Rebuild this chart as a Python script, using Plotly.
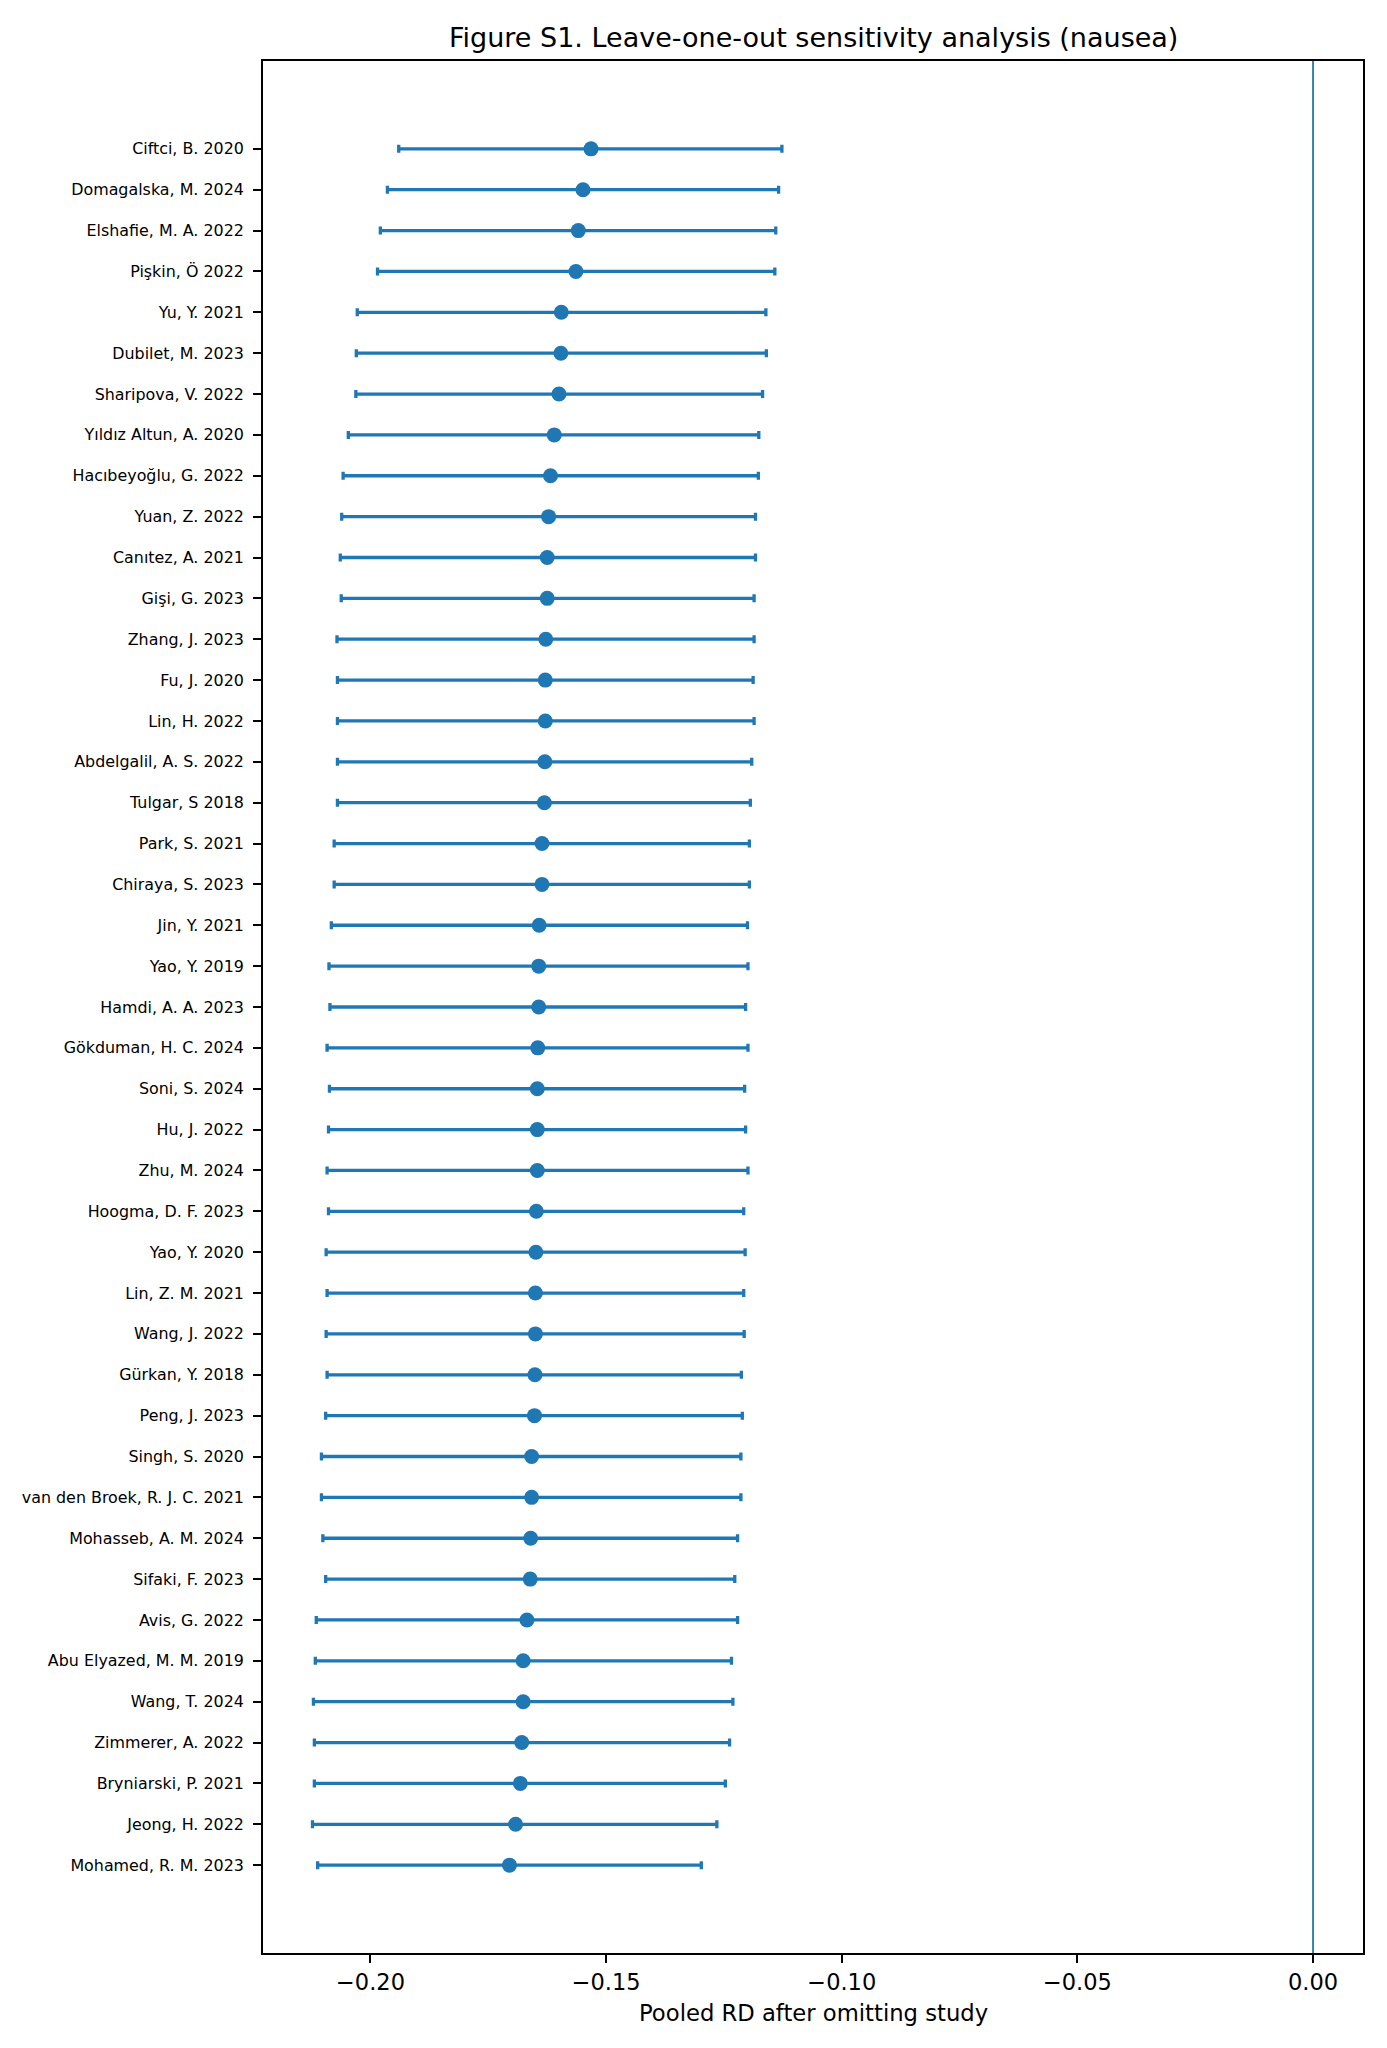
import plotly.graph_objects as go

studies = [
    "Ciftci, B. 2020", "Domagalska, M. 2024", "Elshafie, M. A. 2022", "Pişkin, Ö 2022",
    "Yu, Y. 2021", "Dubilet, M. 2023", "Sharipova, V. 2022", "Yıldız Altun, A. 2020",
    "Hacıbeyoğlu, G. 2022", "Yuan, Z. 2022", "Canıtez, A. 2021", "Gişi, G. 2023",
    "Zhang, J. 2023", "Fu, J. 2020", "Lin, H. 2022", "Abdelgalil, A. S. 2022",
    "Tulgar, S 2018", "Park, S. 2021", "Chiraya, S. 2023", "Jin, Y. 2021",
    "Yao, Y. 2019", "Hamdi, A. A. 2023", "Gökduman, H. C. 2024", "Soni, S. 2024",
    "Hu, J. 2022", "Zhu, M. 2024", "Hoogma, D. F. 2023", "Yao, Y. 2020",
    "Lin, Z. M. 2021", "Wang, J. 2022", "Gürkan, Y. 2018", "Peng, J. 2023",
    "Singh, S. 2020", "van den Broek, R. J. C. 2021", "Mohasseb, A. M. 2024", "Sifaki, F. 2023",
    "Avis, G. 2022", "Abu Elyazed, M. M. 2019", "Wang, T. 2024", "Zimmerer, A. 2022",
    "Bryniarski, P. 2021", "Jeong, H. 2022", "Mohamed, R. M. 2023",
]

pooled_rd = [
    -0.1532, -0.1549, -0.1559, -0.1564, -0.1595, -0.1596, -0.1600, -0.1610,
    -0.1618, -0.1622, -0.1625, -0.1625, -0.1628, -0.1629, -0.1629, -0.1630,
    -0.1631, -0.1636, -0.1636, -0.1642, -0.1643, -0.1643, -0.1645, -0.1646,
    -0.1646, -0.1646, -0.1648, -0.1649, -0.1650, -0.1650, -0.1651, -0.1652,
    -0.1658, -0.1658, -0.1660, -0.1661, -0.1668, -0.1676, -0.1676, -0.1679,
    -0.1682, -0.1692, -0.1705,
]

ci_lower = [
    -0.1940, -0.1964, -0.1979, -0.1985, -0.2028, -0.2030, -0.2031, -0.2047,
    -0.2058, -0.2061, -0.2064, -0.2062, -0.2071, -0.2070, -0.2070, -0.2070,
    -0.2070, -0.2077, -0.2077, -0.2083, -0.2088, -0.2086, -0.2092, -0.2087,
    -0.2089, -0.2092, -0.2089, -0.2094, -0.2092, -0.2094, -0.2092, -0.2095,
    -0.2104, -0.2104, -0.2101, -0.2095, -0.2115, -0.2117, -0.2121, -0.2119,
    -0.2119, -0.2123, -0.2112,
]

ci_upper = [
    -0.1127, -0.1134, -0.1140, -0.1142, -0.1161, -0.1160, -0.1168, -0.1176,
    -0.1177, -0.1183, -0.1183, -0.1186, -0.1186, -0.1188, -0.1186, -0.1191,
    -0.1194, -0.1196, -0.1196, -0.1200, -0.1199, -0.1204, -0.1199, -0.1206,
    -0.1204, -0.1199, -0.1208, -0.1205, -0.1208, -0.1207, -0.1213, -0.1211,
    -0.1214, -0.1214, -0.1221, -0.1227, -0.1221, -0.1234, -0.1231, -0.1238,
    -0.1247, -0.1265, -0.1298,
]

x_ticks = [-0.20, -0.15, -0.10, -0.05, 0.00]

COLOR = "#1f77b4"
FONT = "DejaVu Sans"

ypos = list(range(len(studies)))
err_plus = [u - m for u, m in zip(ci_upper, pooled_rd)]
err_minus = [m - l for m, l in zip(pooled_rd, ci_lower)]

fig = go.Figure()
fig.add_trace(go.Scatter(
    x=pooled_rd, y=ypos, mode="markers",
    marker=dict(color=COLOR, size=15),
    error_x=dict(type="data", symmetric=False, array=err_plus, arrayminus=err_minus,
                 color=COLOR, thickness=3.3, width=4),
    showlegend=False,
))

fig.add_shape(type="line", xref="x", yref="paper", x0=0, x1=0, y0=0, y1=1,
              line=dict(color=COLOR, width=1.8), layer="below")

n = len(studies)
fig.update_layout(
    width=1387, height=2048,
    margin=dict(l=263, r=24, t=61, b=95, pad=0),
    plot_bgcolor="white", paper_bgcolor="white",
    font=dict(family=FONT, color="black"),
    xaxis=dict(
        range=[-0.2228, 0.0106], tickvals=x_ticks, tickformat=".2f",
        ticks="outside", ticklen=8, tickwidth=1.8, tickcolor="black",
        showline=True, mirror=True, linecolor="black", linewidth=1.8,
        showgrid=False, zeroline=False, tickfont=dict(size=22.5, family=FONT),
    ),
    yaxis=dict(
        range=[n - 1 + 2.15, -2.15], tickvals=ypos, ticktext=studies,
        ticks="outside", ticklen=8, tickwidth=1.8, tickcolor="black",
        ticklabelstandoff=6,
        showline=True, mirror=True, linecolor="black", linewidth=1.8,
        showgrid=False, zeroline=False, tickfont=dict(size=15.9, family=FONT),
    ),
    annotations=[
        dict(text="Figure S1. Leave-one-out sensitivity analysis (nausea)",
             xref="paper", yref="paper", x=0.5, y=(1953 - 37) / 1892,
             xanchor="center", yanchor="middle", showarrow=False,
             font=dict(size=27, family=FONT, color="black")),
        dict(text="Pooled RD after omitting study",
             xref="paper", yref="paper", x=0.5, y=(1953 - 2013) / 1892,
             xanchor="center", yanchor="middle", showarrow=False,
             font=dict(size=22.7, family=FONT, color="black")),
    ],
)

fig.write_html("out.html")
